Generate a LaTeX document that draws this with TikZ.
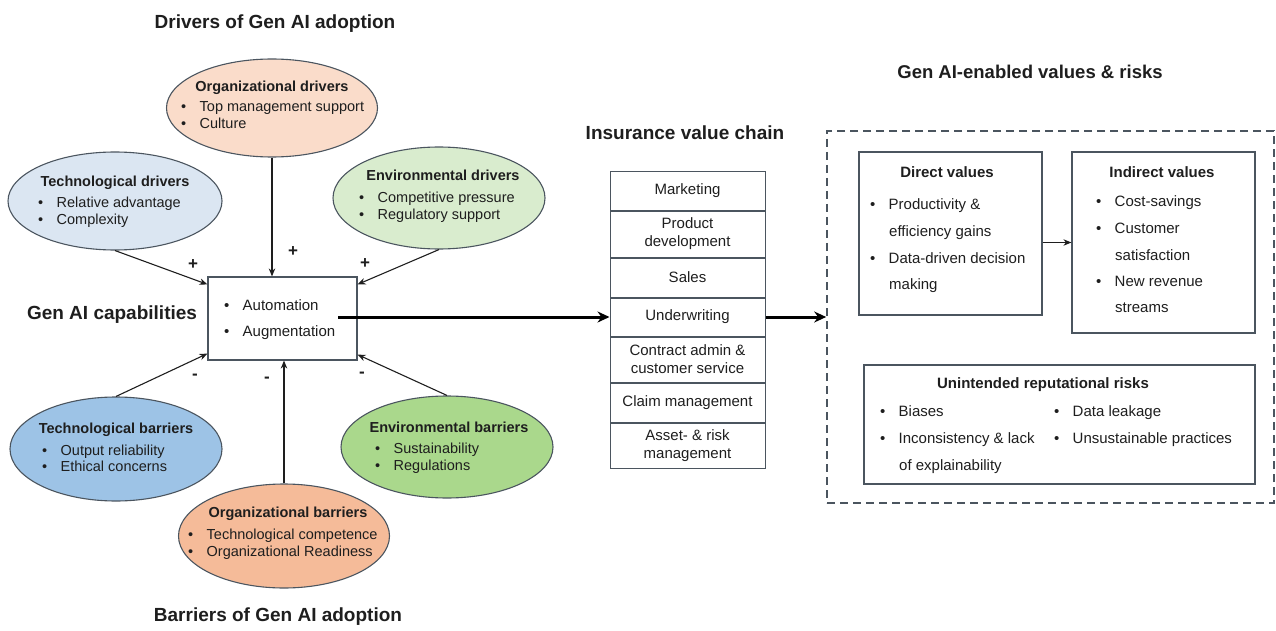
\documentclass[tikz,border=0pt]{standalone}
\usepackage{fontspec}
\setmainfont{Liberation Sans}
\usepackage{xcolor}
\usepackage{tikz}
\usetikzlibrary{shapes, positioning, arrows.meta}

\definecolor{ink}{RGB}{30,30,30}
\definecolor{edge}{RGB}{75,85,95}
\definecolor{orgdrv}{RGB}{250,220,202}
\definecolor{techdrv}{RGB}{219,230,242}
\definecolor{envdrv}{RGB}{217,236,206}
\definecolor{orgbar}{RGB}{245,187,153}
\definecolor{techbar}{RGB}{157,195,230}
\definecolor{envbar}{RGB}{170,216,140}

\newcommand{\bul}{\makebox[18.5pt][l]{\textbullet}}

\begin{document}
\begin{tikzpicture}[x=1pt, y=-1pt, ink,
	bubble/.style={ellipse, draw=edge, line width=1.1pt, inner sep=0pt},
	box/.style={draw=edge, line width=1.2pt, inner sep=0pt},
	row/.style={draw=edge, line width=1pt, inner sep=0pt, minimum width=155pt, align=center, font=\fontsize{15}{18}\selectfont},
	heading/.style={font=\fontsize{19}{22}\selectfont\bfseries, inner sep=0pt},
	btitle/.style={font=\fontsize{14.5}{17}\selectfont\bfseries, inner sep=0pt},
	bitem/.style={font=\fontsize{14.5}{17}\selectfont, anchor=west, inner sep=0pt, text height=10pt, text depth=3pt},
	vtitle/.style={font=\fontsize{15}{18}\selectfont\bfseries, inner sep=0pt},
	vitem/.style={font=\fontsize{15}{18}\selectfont, anchor=west, inner sep=0pt, text height=10pt, text depth=3pt},
	link/.style={draw=ink, line width=1.1pt, -{Stealth[length=8pt,width=6.5pt]}},
	flow/.style={draw=black, line width=3pt, -{Stealth[length=12pt,width=11pt]}},
	sign/.style={font=\fontsize{17}{17}\selectfont\bfseries, inner sep=0pt}]

			\useasboundingbox (0,0) rectangle (1276,631);

			\node[heading] (hdrv) at (275,24) {Drivers of Gen AI adoption};
			\node[heading] (hcap) at (112,315) {Gen AI capabilities};
			\node[heading] (hbar) at (278,617) {Barriers of Gen AI adoption};
			\node[heading] (hvc) at (685,133) {Insurance value chain};
			\node[heading, font=\fontsize{18.5}{22}\selectfont\bfseries] (hval) at (1030,72) {Gen AI-enabled values \& risks};

			% drivers
			\node[bubble, fill=orgdrv, minimum width=211pt, minimum height=98pt] (odrv) at (272,108) {};
			\node[btitle] (odrvt) at (272,88) {Organizational drivers};
			\node[bitem] (odrv1) at (181,108) {\bul Top management support};
			\node[bitem] (odrv2) at (181,125) {\bul Culture};

			\node[bubble, fill=techdrv, minimum width=214pt, minimum height=98pt] (tdrv) at (115,201) {};
			\node[btitle] (tdrvt) at (115,183) {Technological drivers};
			\node[bitem] (tdrv1) at (38,204) {\bul Relative advantage};
			\node[bitem] (tdrv2) at (38,221) {\bul Complexity};

			\node[bubble, fill=envdrv, minimum width=212pt, minimum height=102pt] (edrv) at (439,198) {};
			\node[btitle] (edrvt) at (443,175) {Environmental drivers};
			\node[bitem] (edrv1) at (359,199) {\bul Competitive pressure};
			\node[bitem] (edrv2) at (359,216) {\bul Regulatory support};

			% barriers
			\node[bubble, fill=techbar, minimum width=212pt, minimum height=104pt] (tbar) at (116,449) {};
			\node[btitle] (tbart) at (116,430) {Technological barriers};
			\node[bitem] (tbar1) at (42,452) {\bul Output reliability};
			\node[bitem] (tbar2) at (42,468) {\bul Ethical concerns};

			\node[bubble, fill=envbar, minimum width=212pt, minimum height=102pt] (ebar) at (447,447) {};
			\node[btitle] (ebart) at (449,427) {Environmental barriers};
			\node[bitem] (ebar1) at (375,450) {\bul Sustainability};
			\node[bitem] (ebar2) at (375,467) {\bul Regulations};

			\node[bubble, fill=orgbar, minimum width=211pt, minimum height=104pt] (obar) at (284,536) {};
			\node[btitle] (obart) at (288,514) {Organizational barriers};
			\node[bitem] (obar1) at (188,536) {\bul Technological competence};
			\node[bitem] (obar2) at (188,553) {\bul Organizational Readiness};

			% capabilities
			\node[box, minimum width=149pt, minimum height=83pt] (cap) at (282.5,318.5) {};
			\node[vitem] (cap1) at (224,307) {\bul Automation};
			\node[vitem] (cap2) at (224,333) {\bul Augmentation};

			\draw[link] (tdrv.south) -- ([yshift=-8pt]cap.north west);
			\draw[link] (odrv.south) -- (odrv.south |- cap.north);
			\draw[link] (edrv.south) -- ([yshift=-8pt]cap.north east);
			\draw[link] (tbar.north) -- ([yshift=7pt]cap.south west);
			\draw[link] (obar.north) -- (obar.north |- cap.south);
			\draw[link] (ebar.north) -- ([yshift=6pt]cap.south east);

			\node[sign] (p1) at (193,265) {+};
			\node[sign] (p2) at (293,252) {+};
			\node[sign] (p3) at (365,264) {+};
			\node[sign] (m1) at (195,377) {-};
			\node[sign] (m2) at (267,380) {-};
			\node[sign] (m3) at (362,375) {-};

			% value chain
			\node[row, minimum height=38pt] (mkt) at (687.5,191) {Marketing};
			\node[row, minimum height=46pt, below=0pt of mkt] (prod) {Product\\development};
			\node[row, minimum height=39pt, below=0pt of prod] (sales) {Sales};
			\node[row, minimum height=38pt, below=0pt of sales] (uw) {Underwriting};
			\node[row, minimum height=45pt, below=0pt of uw] (cont) {Contract admin \&\\customer service};
			\node[row, minimum height=39pt, below=0pt of cont] (claim) {Claim management};
			\node[row, minimum height=45pt, below=0pt of claim] (asset) {Asset- \& risk\\management};

			% values and risks
			\node[draw=edge, dash pattern=on 8pt off 5pt, line width=1.6pt, minimum width=447pt, minimum height=372pt, inner sep=0pt] (vals) at (1050.5,317) {};

			\node[box, minimum width=183pt, minimum height=163pt] (dir) at (950.5,233.5) {};
			\node[vtitle] (dirt) at (947,172) {Direct values};
			\node[vitem] (dir1) at (870,206) {\bul Productivity \&};
			\node[vitem] (dir2) at (889,233) {efficiency gains};
			\node[vitem] (dir3) at (870,260) {\bul Data-driven decision};
			\node[vitem] (dir4) at (889,286) {making};

			\node[box, minimum width=183pt, minimum height=181pt] (ind) at (1163.5,242.5) {};
			\node[vtitle] (indt) at (1162,172) {Indirect values};
			\node[vitem] (ind1) at (1096,203) {\bul Cost-savings};
			\node[vitem] (ind2) at (1096,230) {\bul Customer};
			\node[vitem] (ind3) at (1115,257) {satisfaction};
			\node[vitem] (ind4) at (1096,283) {\bul New revenue};
			\node[vitem] (ind5) at (1115,309) {streams};

			\node[box, minimum width=391pt, minimum height=119pt] (risk) at (1059.5,424.5) {};
			\node[vtitle] (riskt) at (1043,385) {Unintended reputational risks};
			\node[vitem] (risk1) at (880,413) {\bul Biases};
			\node[vitem] (risk2) at (880,440) {\bul Inconsistency \& lack};
			\node[vitem] (risk3) at (899,467) {of explainability};
			\node[vitem] (risk4) at (1054,413) {\bul Data leakage};
			\node[vitem] (risk5) at (1054,440) {\bul Unsustainable practices};

			\draw[link] (dir.east |- ind.west) -- (ind.west);

			\coordinate (capout) at (338,317);
			\draw[flow] (capout) -- (capout -| uw.west);
			\draw[flow] (capout -| uw.east) -- (capout -| vals.west);
		\end{tikzpicture}
\end{document}
